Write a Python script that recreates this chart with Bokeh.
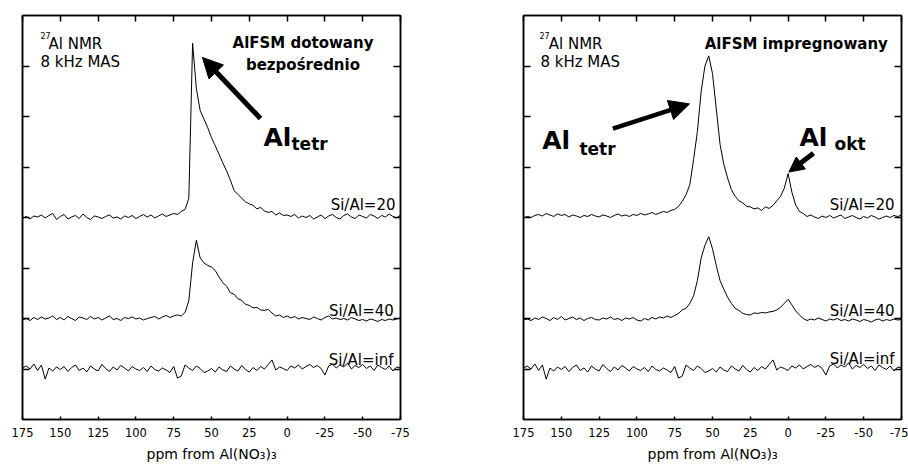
from bokeh.plotting import figure
from bokeh.models import Range1d, FixedTicker, LinearAxis, Label, Arrow, NormalHead
from bokeh.layouts import row
from bokeh.embed import file_html
from bokeh.resources import INLINE

# chemical shift grid (ppm), 175 -> -75 in 2.5 ppm steps
ppm = [175 - 2.5 * i for i in range(101)]

x_ticks = [175, 150, 125, 100, 75, 50, 25, 0, -25, -50, -75]
x_tick_labels = ["175", "150", "125", "100", "75", "50", "25", "0", "-25", "-50", "-75"]
y_ticks = [1, 2, 3, 4, 5, 6, 7]

# AlFSM dotowany bezpośrednio
left_si20 = [3.98, 4.02, 3.97, 4.03, 4.01, 4.05, 3.99, 4.04, 4.08, 3.96,
             4.02, 4.06, 3.97, 4.01, 4.04, 3.98, 4.07, 4.00, 3.96, 4.03,
             4.01, 3.98, 4.02, 4.05, 3.99, 4.01, 3.97, 4.03, 4.00, 4.04,
             3.98, 4.02, 4.06, 4.01, 4.05, 3.99, 4.03, 4.07, 4.02, 4.05,
             4.08, 4.06, 4.12, 4.16, 4.38, 7.45, 6.55, 6.12, 5.95, 5.78,
             5.58, 5.42, 5.25, 5.08, 4.92, 4.74, 4.53, 4.46, 4.38, 4.31,
             4.27, 4.24, 4.17, 4.20, 4.13, 4.10, 4.12, 4.05, 4.09, 4.04,
             4.05, 4.02, 4.06, 3.99, 4.03, 4.00, 4.04, 3.97, 4.01, 4.05,
             3.98, 4.03, 4.06, 4.00, 3.97, 4.04, 4.07, 4.01, 3.98, 4.05,
             4.02, 3.99, 4.06, 4.03, 3.98, 4.04, 4.01, 4.07, 4.02, 3.99,
             4.05]
left_si40 = [1.97, 2.00, 1.96, 2.02, 1.98, 2.03, 1.99, 2.01, 2.05, 1.98,
             2.02, 1.97, 2.04, 2.00, 1.96, 2.03, 2.01, 1.98, 2.04, 1.99,
             2.02, 1.97, 2.01, 2.05, 1.98, 2.00, 1.96, 2.02, 2.00, 2.03,
             1.99, 2.01, 1.97, 2.00, 2.02, 2.04, 1.99, 2.03, 2.06, 2.02,
             2.05, 2.07, 2.05, 2.12, 2.35, 3.10, 3.55, 3.20, 3.10, 3.05,
             3.02, 2.95, 2.82, 2.71, 2.64, 2.51, 2.48, 2.39, 2.36, 2.28,
             2.26, 2.21, 2.22, 2.17, 2.16, 2.18, 2.11, 2.05, 2.07, 2.02,
             2.05, 2.01, 2.04, 1.99, 2.02, 2.00, 1.98, 2.03, 2.00, 1.97,
             2.02, 2.05, 1.99, 2.01, 1.98, 2.00, 1.97, 2.02, 1.99, 1.96,
             1.98, 1.95, 1.99, 1.97, 1.94, 1.98, 1.96, 1.99, 1.97, 1.99,
             2.01]
# Si/Al = inf (same spectrum in both panels)
si_inf = [1.02, 1.06, 1.00, 1.10, 0.97, 1.08, 0.80, 1.02, 0.96, 1.04,
          0.99, 1.05, 0.95, 1.03, 1.08, 0.97, 1.02, 0.94, 1.06, 1.00,
          0.96, 1.09, 1.01, 0.95, 1.04, 0.98, 1.07, 1.02, 0.96, 1.05,
          1.00, 0.97, 1.03, 0.95, 1.06, 0.99, 0.96, 1.02, 0.98, 0.93,
          1.05, 0.82, 0.86, 1.08, 1.02, 0.97, 1.06, 1.01, 0.93, 0.96,
          1.01, 0.94, 1.04, 0.98, 0.95, 1.06, 1.00, 0.96, 1.07, 0.99,
          0.94, 1.03, 0.97, 1.05, 1.00, 1.09, 1.18, 0.98, 1.04, 1.01,
          0.97, 1.06, 1.02, 1.08, 1.00, 1.05, 1.09, 1.03, 1.07, 1.01,
          0.88, 1.06, 1.10, 1.02, 1.08, 1.04, 1.12, 1.00, 1.07, 1.03,
          1.09, 1.01, 1.06, 0.97, 1.08, 1.03, 0.99, 1.06, 0.96, 1.04,
          1.02]
# AlFSM impregnowany
right_si20 = [3.99, 4.02, 4.00, 4.04, 4.06, 4.03, 4.08, 4.05, 4.02, 4.07,
              4.04, 4.06, 4.01, 4.05, 4.03, 4.00, 4.04, 4.02, 4.06, 4.03,
              4.01, 4.05, 4.03, 4.00, 4.04, 4.07, 4.03, 4.05, 4.02, 4.06,
              4.04, 4.08, 4.05, 4.07, 4.10, 4.06, 4.09, 4.12, 4.10, 4.14,
              4.16, 4.22, 4.32, 4.45, 4.65, 5.15, 5.70, 6.50, 7.00, 7.20,
              6.85, 6.15, 5.45, 5.05, 4.78, 4.55, 4.42, 4.33, 4.29, 4.22,
              4.21, 4.17, 4.19, 4.14, 4.21, 4.18, 4.24, 4.33, 4.42, 4.58,
              4.87, 4.50, 4.25, 4.12, 4.08, 4.02, 4.05, 4.01, 3.98, 4.03,
              4.00, 4.04, 3.99, 4.02, 4.05, 3.98, 4.01, 4.04, 4.00, 3.97,
              4.02, 3.99, 4.04, 4.01, 3.97, 4.00, 4.03, 4.00, 4.04, 4.02,
              4.05]
right_si40 = [1.97, 1.99, 1.96, 2.01, 1.98, 2.03, 2.00, 1.96, 2.02, 1.98,
              2.04, 1.97, 2.00, 2.03, 1.98, 2.01, 1.96, 2.00, 2.02, 1.98,
              1.97, 2.01, 1.99, 2.03, 1.98, 2.00, 1.96, 2.01, 1.99, 2.02,
              1.97, 1.95, 2.00, 1.97, 2.02, 1.99, 2.03, 2.01, 2.05, 2.02,
              2.06, 2.10, 2.17, 2.20, 2.30, 2.45, 2.75, 3.20, 3.45, 3.62,
              3.38, 3.05, 2.75, 2.58, 2.42, 2.30, 2.20, 2.16, 2.10, 2.08,
              2.07, 2.11, 2.10, 2.12, 2.11, 2.13, 2.14, 2.17, 2.22, 2.30,
              2.38, 2.27, 2.15, 2.07, 2.00, 1.96, 1.99, 1.97, 2.01, 1.98,
              1.95, 1.99, 1.97, 2.00, 1.96, 1.98, 1.95, 1.99, 1.97, 1.94,
              1.98, 1.96, 1.93, 1.97, 1.99, 1.95, 1.98, 1.96, 1.99, 1.97,
              1.98]

FONT = "DejaVu Sans"


def bare_axis_style(ax, tick_in):
    ax.major_tick_in = tick_in
    ax.major_tick_out = 0
    ax.minor_tick_line_color = None
    ax.axis_line_width = 1.5
    ax.major_tick_line_width = 1.5
    ax.major_label_text_color = None
    ax.major_label_text_font_size = "9px"
    ax.major_label_standoff = 0


def make_panel(border_left, border_right, traces):
    p = figure(width=454, height=464, x_range=Range1d(175, -75), y_range=Range1d(0, 8),
               output_backend="svg", toolbar_location=None,
               min_border_left=border_left, min_border_right=border_right,
               min_border_top=15, min_border_bottom=45)
    p.grid.visible = False
    p.outline_line_color = "black"
    p.outline_line_width = 1.5
    p.background_fill_color = "white"
    p.border_fill_color = "white"

    xa = p.xaxis[0]
    xa.ticker = FixedTicker(ticks=x_ticks)
    xa.major_label_overrides = {t: s for t, s in zip(x_ticks, x_tick_labels)}
    xa.major_tick_in = 3
    xa.major_tick_out = 0
    xa.minor_tick_line_color = None
    xa.axis_line_width = 1.5
    xa.major_tick_line_width = 1.5
    xa.major_label_text_font = FONT
    xa.major_label_text_font_size = "11.5px"
    xa.major_label_text_color = "black"
    xa.major_label_standoff = 8
    xa.axis_label = "ppm from Al(NO\u2083)\u2083"
    xa.axis_label_text_font = FONT
    xa.axis_label_text_font_size = "14px"
    xa.axis_label_text_font_style = "normal"
    xa.axis_label_text_color = "black"
    xa.axis_label_standoff = 6

    ya = p.yaxis[0]
    ya.ticker = FixedTicker(ticks=y_ticks)
    bare_axis_style(ya, 7)

    top = LinearAxis(ticker=FixedTicker(ticks=x_ticks))
    bare_axis_style(top, 6)
    p.add_layout(top, "above")
    right = LinearAxis(ticker=FixedTicker(ticks=y_ticks))
    bare_axis_style(right, 7)
    p.add_layout(right, "right")

    for ys in traces:
        p.line(ppm, ys, line_color="black", line_width=1)
    return p


def lab(p, x, y, text, size="15px", bold=False, align="left"):
    p.add_layout(Label(x=x, y=y, text=text, text_font=FONT, text_font_size=size,
                       text_font_style="bold" if bold else "normal", text_color="black",
                       text_align=align, text_baseline="alphabetic"))


def arrow(p, x0, y0, x1, y1, width, head):
    p.add_layout(Arrow(end=NormalHead(size=head, fill_color="black", line_color="black", line_width=1),
                       x_start=x0, y_start=y0, x_end=x1, y_end=y1,
                       line_color="black", line_width=width))


# ---- left panel ----
pl = make_panel(22, 54, [left_si20, left_si40, si_inf])
lab(pl, 163.1, 7.60, "27", size="8px")
lab(pl, 157.8, 7.445, "Al NMR")
lab(pl, 163.1, 7.07, "8 kHz MAS")
lab(pl, -10.5, 7.45, "AlFSM dotowany", bold=True, align="center")
lab(pl, -10.5, 7.01, "bezpośrednio", bold=True, align="center")
lab(pl, 15.6, 5.59, "Al", size="25px", bold=True)
lab(pl, -2.9, 5.46, "tetr", size="17px", bold=True)
lab(pl, -71.7, 4.24, "Si/Al=20", align="right")
lab(pl, -70.6, 2.14, "Si/Al=40", align="right")
lab(pl, -70.4, 1.17, "Si/Al=inf", align="right")
arrow(pl, 17.6, 5.96, 56.0, 7.17, 5, 20)

# ---- right panel ----
pr = make_panel(69, 7, [right_si20, right_si40, si_inf])
lab(pr, 164.4, 7.60, "27", size="8px")
lab(pr, 158.3, 7.445, "Al NMR")
lab(pr, 163.8, 7.07, "8 kHz MAS")
lab(pr, -5.4, 7.445, "AlFSM impregnowany", bold=True, align="center")
lab(pr, 162.6, 5.52, "Al", size="25px", bold=True)
lab(pr, 138.0, 5.36, "tetr", size="17px", bold=True)
lab(pr, -7.5, 5.59, "Al", size="25px", bold=True)
lab(pr, -30.7, 5.46, "okt", size="17px", bold=True)
lab(pr, -70.4, 4.24, "Si/Al=20", align="right")
lab(pr, -70.4, 2.15, "Si/Al=40", align="right")
lab(pr, -70.4, 1.19, "Si/Al=inf", align="right")
arrow(pr, 115.9, 5.76, 65.2, 6.25, 4.5, 20)
arrow(pr, -16.8, 5.27, -0.5, 4.90, 5, 15)

layout = row(pl, pr)
open("out.html", "w").write(file_html(layout, INLINE))
